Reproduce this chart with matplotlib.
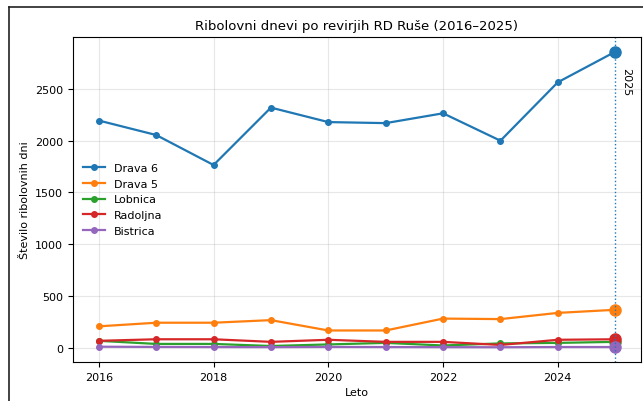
import matplotlib
matplotlib.use("Agg")
import matplotlib.pyplot as plt
from matplotlib.lines import Line2D

# Podatki (ocenjeni iz grafa)
years = [2016, 2017, 2018, 2019, 2020, 2021, 2022, 2023, 2024, 2025]
drava6 = [2195, 2055, 1765, 2320, 2180, 2170, 2265, 2000, 2565, 2860]
drava5 = [205, 240, 240, 265, 165, 165, 280, 275, 335, 365]
lobnica = [65, 35, 35, 15, 30, 45, 20, 40, 45, 55]
radoljna = [65, 80, 80, 55, 75, 55, 55, 25, 75, 80]
bistrica = [8, 6, 5, 4, 6, 5, 4, 3, 5, 5]

series = [
    ("Drava 6", drava6),
    ("Drava 5", drava5),
    ("Lobnica", lobnica),
    ("Radoljna", radoljna),
    ("Bistrica", bistrica),
]
last_year = years[-1]

fig = plt.figure(figsize=(6.43, 4.02), dpi=100)
ax = fig.add_axes([0.1135, 0.097, 0.8834, 0.8085])

for i, (name, vals) in enumerate(series):
    color = f"C{i}"
    ax.plot(years, vals, marker="o", markersize=4, linewidth=1.6,
            color=color, label=name)
    # poudarjena zadnja tocka
    ax.plot(years[-1], vals[-1], marker="o", markersize=8, color=color)

ax.axvline(last_year, color="C0", linestyle=":", linewidth=1)
ax.text(last_year + 0.1, max(drava6) * 0.95, str(last_year),
        rotation=270, va="top", ha="left", fontsize=8)

ax.set_title("Ribolovni dnevi po revirjih RD Ruše (2016–2025)", fontsize=9.5)
ax.set_xlabel("Leto", fontsize=8)
ax.set_ylabel("Število ribolovnih dni", fontsize=8)
ax.tick_params(labelsize=8)
ax.set_xticks([2016, 2018, 2020, 2022, 2024])
ax.set_yticks([0, 500, 1000, 1500, 2000, 2500])
ax.grid(True, alpha=0.3)
ax.legend(loc="center left", frameon=False, fontsize=8)

# okvir posnetka zaslona
fig.add_artist(Line2D([9 / 643, 1], [1 - 8 / 402, 1 - 8 / 402],
                      transform=fig.transFigure, color="#222222", linewidth=1.2))
fig.add_artist(Line2D([9 / 643, 9 / 643], [0, 1 - 8 / 402],
                      transform=fig.transFigure, color="#222222", linewidth=1.2))

fig.savefig("out.png", dpi=100)
